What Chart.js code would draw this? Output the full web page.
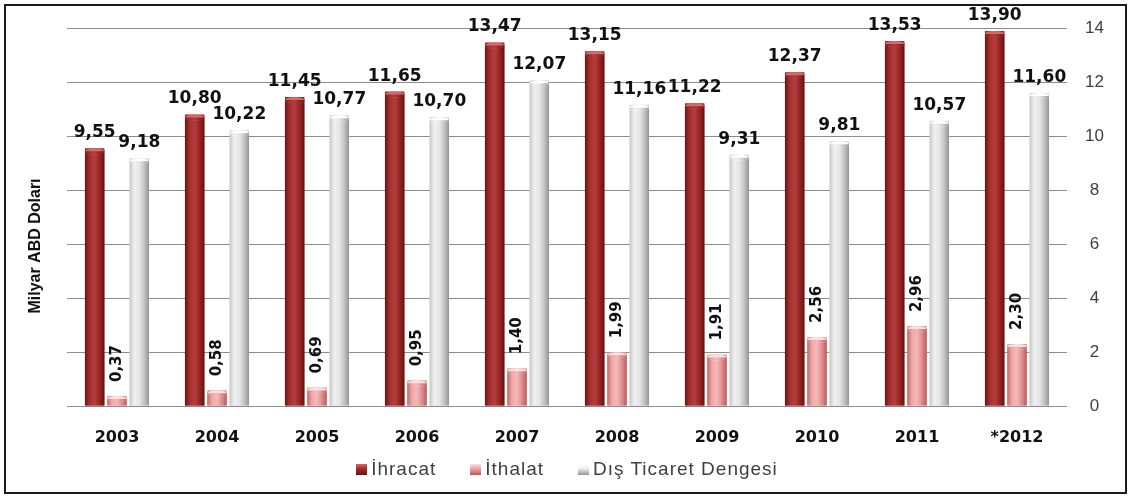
<!DOCTYPE html>
<html lang="tr">
<head>
<meta charset="UTF-8">
<title>Dış Ticaret</title>
<script src="https://cdn.jsdelivr.net/npm/chart.js"></script>
<style>
    body { margin: 0; background: #fff; }
    .wrap { position: relative; width: 1130px; height: 497px; }
    .frame { position: absolute; left: 4px; top: 4px; width: 1119px; height: 486px; border: 2px solid #1a1a1a; pointer-events: none; }
    #legend { position: absolute; left: 67px; width: 1000px; top: 458px; display: flex; justify-content: center;
              font-family: "Liberation Sans", sans-serif; font-size: 19px; letter-spacing: 1px; color: #404040; }
    #legend span.item { display: flex; align-items: center; margin: 0 17px; }
    #legend span.box { width: 11px; height: 11px; margin-right: 4px; display: inline-block; }
</style>
</head>
<body>
<div class="wrap">
    <canvas id="chart" width="1130" height="497"></canvas>
    <div id="legend"></div>
    <div class="frame"></div>
</div>

<script>
    const years = ["2003", "2004", "2005", "2006", "2007", "2008", "2009", "2010", "2011", "*2012"];
    const ihracat = [9.55, 10.80, 11.45, 11.65, 13.47, 13.15, 11.22, 12.37, 13.53, 13.90];
    const ithalat = [0.37, 0.58, 0.69, 0.95, 1.40, 1.99, 1.91, 2.56, 2.96, 2.30];
    const denge = [9.18, 10.22, 10.77, 10.70, 12.07, 11.16, 9.31, 9.81, 10.57, 11.60];
    const yMax = 14;
    const yStep = 2;

    // cylinder look: horizontal gradient stops + cap colour per series
    const shades = [
        { stops: ["#6a1515", "#a53030", "#b53c3c", "#962626", "#651212"], cap: "#d46a6a" },
        { stops: ["#c46a6a", "#f0a8a8", "#f4b8b8", "#e08c8c", "#b85c5c"], cap: "#fbe0e0" },
        { stops: ["#c8c8c8", "#f0f0f0", "#e6e6e6", "#c4c4c4", "#949494"], cap: "#ffffff" }
    ];

    const fmt = v => v.toFixed(2).replace(".", ",");

    const cylinders = {
        id: "cylinders",
        afterDatasetsDraw(chart) {
            const ctx = chart.ctx;
            chart.data.datasets.forEach((ds, di) => {
                const s = shades[di];
                chart.getDatasetMeta(di).data.forEach(bar => {
                    const { x, y, base, width } = bar.getProps(["x", "y", "base", "width"], true);
                    const l = x - width / 2;
                    const g = ctx.createLinearGradient(l, 0, l + width, 0);
                    s.stops.forEach((c, i) => g.addColorStop(i / (s.stops.length - 1), c));
                    ctx.save();
                    ctx.fillStyle = g;
                    ctx.fillRect(l, y + 2, width, base - y - 2);
                    ctx.beginPath();
                    ctx.ellipse(x, y + 3, width / 2, 3, 0, 0, Math.PI * 2);
                    ctx.fillStyle = s.cap;
                    ctx.fill();
                    ctx.beginPath();
                    ctx.ellipse(x, y + 3, width / 2, 3, 0, 0, Math.PI);
                    ctx.fillStyle = g;
                    ctx.fill();
                    ctx.restore();
                });
            });
        }
    };

    const valueLabels = {
        id: "valueLabels",
        afterDatasetsDraw(chart) {
            const ctx = chart.ctx;
            ctx.save();
            ctx.fillStyle = "#111";
            chart.data.datasets.forEach((ds, di) => {
                chart.getDatasetMeta(di).data.forEach((bar, i) => {
                    const text = fmt(ds.data[i]);
                    if (di === 1) {
                        ctx.save();
                        ctx.translate(bar.x, bar.y - 14);
                        ctx.rotate(-Math.PI / 2);
                        ctx.font = "bold 15px 'DejaVu Sans'";
                        ctx.textAlign = "left";
                        ctx.textBaseline = "middle";
                        ctx.fillText(text, 0, 0);
                        ctx.restore();
                    } else {
                        ctx.font = "bold 17px 'DejaVu Sans'";
                        ctx.textAlign = "center";
                        ctx.textBaseline = "bottom";
                        ctx.fillText(text, bar.x, bar.y - 7);
                    }
                });
            });
            ctx.restore();
        }
    };

    const sideTitle = {
        id: "sideTitle",
        afterDraw(chart) {
            const ctx = chart.ctx;
            ctx.save();
            ctx.translate(36, 246);
            ctx.rotate(-Math.PI / 2);
            ctx.font = "bold 16px 'Liberation Sans'";
            ctx.fillStyle = "#111";
            ctx.textAlign = "center";
            ctx.textBaseline = "middle";
            ctx.fillText("Milyar ABD Doları", 0, 0);
            ctx.restore();
        }
    };

    const chart = new Chart(document.getElementById("chart"), {
        type: "bar",
        data: {
            labels: years,
            datasets: [
                { label: "İhracat", data: ihracat, backgroundColor: "#9b2a2a" },
                { label: "İthalat", data: ithalat, backgroundColor: "#e89a9a" },
                { label: "Dış Ticaret Dengesi", data: denge, backgroundColor: "#d8d8d8" }
            ]
        },
        options: {
            responsive: false,
            animation: false,
            categoryPercentage: 0.67,
            barPercentage: 0.87,
            layout: { padding: { left: 67, top: 27, right: 0, bottom: 51 } },
            plugins: {
                legend: { display: false },
                tooltip: { enabled: false }
            },
            scales: {
                x: {
                    grid: { display: false },
                    border: { display: false },
                    ticks: {
                        color: "#111",
                        padding: 14,
                        font: { family: "DejaVu Sans", size: 16, weight: "bold" }
                    },
                    afterFit: s => { s.height = 40; }
                },
                y: {
                    position: "right",
                    min: 0,
                    max: yMax,
                    grid: { color: "#8c8c8c", drawTicks: false },
                    border: { display: false },
                    ticks: {
                        stepSize: yStep,
                        padding: 18,
                        crossAlign: "center",
                        color: "#404040",
                        font: { family: "Liberation Sans", size: 17 }
                    },
                    afterFit: s => { s.width = 63; }
                }
            }
        },
        plugins: [cylinders, valueLabels, sideTitle]
    });

    // legend built from the datasets
    const legend = document.getElementById("legend");
    chart.data.datasets.forEach((ds, i) => {
        const item = document.createElement("span");
        item.className = "item";
        const box = document.createElement("span");
        box.className = "box";
        const st = shades[i].stops;
        box.style.background = `linear-gradient(to bottom, ${shades[i].cap}, ${st[1]} 40%, ${st[4]})`;
        item.appendChild(box);
        item.appendChild(document.createTextNode(ds.label));
        legend.appendChild(item);
    });
</script>
</body>
</html>
